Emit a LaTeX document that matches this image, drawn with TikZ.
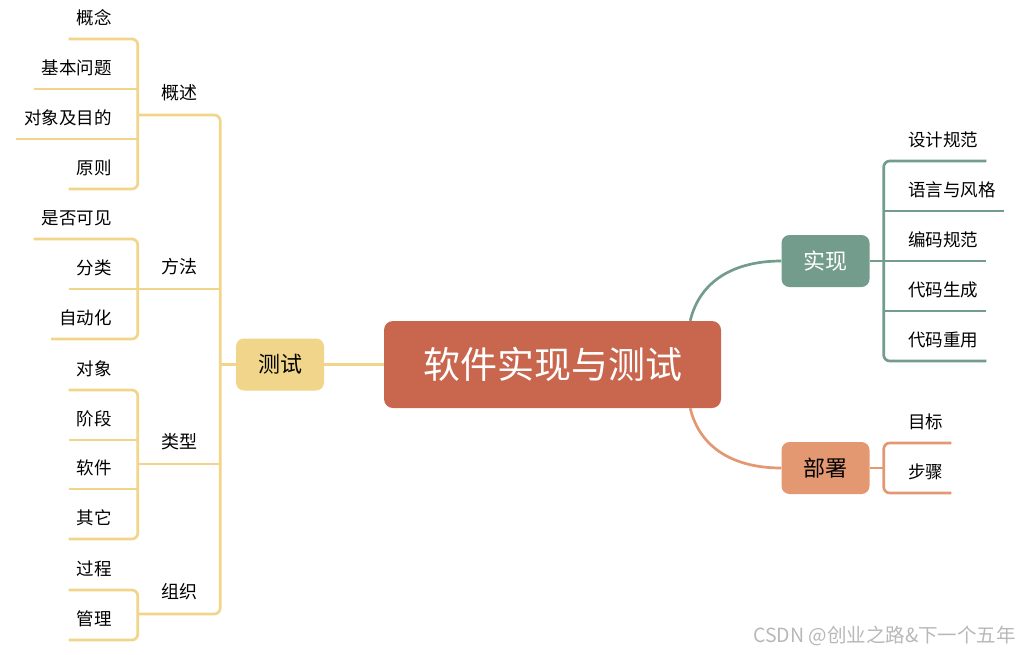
\documentclass[tikz,border=0pt]{standalone}
\usepackage{fontspec}
\setmainfont{Noto Sans CJK SC}
\usetikzlibrary{calc}

\definecolor{rootc}{HTML}{C8664E}
\definecolor{testc}{HTML}{F0D58A}
\definecolor{implc}{HTML}{739C8C}
\definecolor{depc}{HTML}{E39872}

\begin{document}
\begin{tikzpicture}[x=1pt, y=-1pt,
    leaf/.style={font=\fontsize{17.5}{20}\selectfont, inner xsep=8pt, inner ysep=0pt, text height=14pt, text depth=14.5pt},
    mid/.style={font=\fontsize{18}{20}\selectfont, inner sep=0pt, minimum width=82pt, text height=14pt, text depth=15pt},
    topic/.style={rounded corners=8pt, inner sep=0pt, minimum width=88pt, minimum height=52pt, font=\fontsize{22}{24}\selectfont},
    br/.style={line width=2.7pt, rounded corners=6pt}]
    \useasboundingbox (0,0) rectangle (1019,654);

    % Central topic
    \node[fill=rootc, text=white, rounded corners=9pt, minimum width=337pt, minimum height=87pt, inner sep=0pt, font=\fontsize{37}{40}\selectfont] (root) at (552.5,364.5) {软件实现与测试};

    % Main branches
    \node[topic, fill=testc] (cs) at (280,364.5) {测试};
    \node[topic, fill=implc, text=white] (sx) at (825.5,261) {实现};
    \node[topic, fill=depc] (bs) at (825.5,468) {部署};

    % Second level, left
    \node[mid, anchor=south] (gs) at (179,115) {概述};
    \node[mid, anchor=south] (ff) at (179,289) {方法};
    \node[mid, anchor=south] (lx) at (179,464) {类型};
    \node[mid, anchor=south] (zz) at (179,614) {组织};

    % Leaves, left
    \node[leaf, anchor=south east] (gn) at (120,39) {概念};
    \node[leaf, anchor=south east] (jb) at (120,89) {基本问题};
    \node[leaf, anchor=south east] (dx) at (120,139) {对象及目的};
    \node[leaf, anchor=south east] (yz) at (120,189) {原则};
    \node[leaf, anchor=south east] (sf) at (120,239) {是否可见};
    \node[leaf, anchor=south east] (fl) at (120,289) {分类};
    \node[leaf, anchor=south east] (zd) at (120,339) {自动化};
    \node[leaf, anchor=south east] (dxa) at (120,390) {对象};
    \node[leaf, anchor=south east] (jd) at (120,440) {阶段};
    \node[leaf, anchor=south east] (rj) at (120,489) {软件};
    \node[leaf, anchor=south east] (qt) at (120,539) {其它};
    \node[leaf, anchor=south east] (gc) at (120,590) {过程};
    \node[leaf, anchor=south east] (gl) at (120,640) {管理};

    % Leaves, right
    \node[leaf, anchor=south west] (sj) at (900,161) {设计规范};
    \node[leaf, anchor=south west] (yy) at (900,211) {语言与风格};
    \node[leaf, anchor=south west] (bm) at (900,261) {编码规范};
    \node[leaf, anchor=south west] (sc) at (900,311) {代码生成};
    \node[leaf, anchor=south west] (cy) at (900,361) {代码重用};
    \node[leaf, anchor=south west] (mb) at (900,443) {目标};
    \node[leaf, anchor=south west] (bz) at (900,493) {步骤};

    \coordinate (sxj) at ($(sx.east)+(14,0)$);
    \coordinate (bsj) at ($(bs.east)+(14,0)$);

    % Test brackets
    \draw[br, testc] (gn.south west) -- (gn.south west -| gs.south west) -- (yz.south west -| gs.south west) -- (yz.south west);
    \draw[br, testc] (jb.south west) -- (jb.south west -| gs.south west);
    \draw[br, testc] (dx.south west) -- (dx.south west -| gs.south west);
    \draw[br, testc] (sf.south west) -- (sf.south west -| ff.south west) -- (zd.south west -| ff.south west) -- (zd.south west);
    \draw[br, testc] (fl.south west) -- (ff.south east);
    \draw[br, testc] (dxa.south west) -- (dxa.south west -| lx.south west) -- (qt.south west -| lx.south west) -- (qt.south west);
    \draw[br, testc] (jd.south west) -- (jd.south west -| lx.south west);
    \draw[br, testc] (rj.south west) -- (rj.south west -| lx.south west);
    \draw[br, testc] (lx.south west) -- (lx.south east);
    \draw[br, testc] (gc.south west) -- (gc.south west -| zz.south west) -- (gl.south west -| zz.south west) -- (gl.south west);
    \draw[br, testc] (gs.south west) -- (gs.south east) -- (zz.south east) -- (zz.south west);
    \draw[br, testc] (cs.west) -- (cs.west -| gs.south east);
    \draw[br, testc] (cs.east) -- (root.west);

    % Implementation bracket
    \draw[br, implc] (sj.south east) -- (sj.south west -| sxj) -- (cy.south west -| sxj) -- (cy.south east);
    \draw[br, implc] (yy.south east) -- (yy.south west -| sxj);
    \draw[br, implc] (sc.south east) -- (sc.south west -| sxj);
    \draw[br, implc] (sx.east) -- (bm.south east);
    \draw[line width=2.7pt, implc] ([xshift=-31pt]root.north east) .. controls (700,280) and (735,261) .. (sx.west);

    % Deployment bracket
    \draw[br, depc] (mb.south east) -- (mb.south west -| bsj) -- (bz.south west -| bsj) -- (bz.south east);
    \draw[br, depc] (bs.east) -- (bsj);
    \draw[line width=2.7pt, depc] ([xshift=-31pt]root.south east) .. controls (700,449) and (735,468) .. (bs.west);

    % Watermark
    \node[anchor=east, text=black!28, inner sep=0pt, font=\fontsize{19.5}{22}\selectfont] (wm) at (1016,636) {CSDN @创业之路\&下一个五年};
\end{tikzpicture}
\end{document}
